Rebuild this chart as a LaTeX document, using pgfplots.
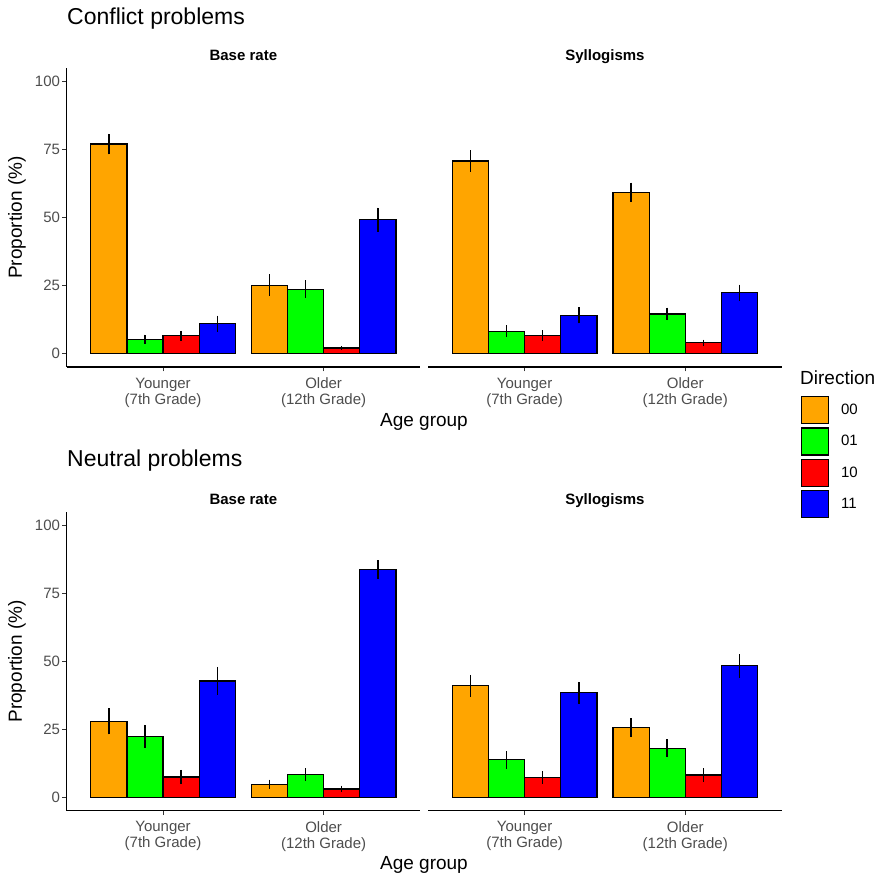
\documentclass[border=0pt]{standalone}
\usepackage{pgfplots}
\pgfplotsset{compat=1.18}
\usepackage{fontspec}
\setmainfont{Liberation Sans}
\definecolor{c00}{HTML}{FFA500}
\definecolor{c01}{HTML}{00FF00}
\definecolor{c10}{HTML}{FF0000}
\definecolor{c11}{HTML}{0000FF}
\definecolor{tickgrey}{HTML}{4D4D4D}
\definecolor{tickcol}{HTML}{333333}
\pgfplotsset{
  panel/.style={
    scale only axis, width=353.3pt, height=299pt,
    xmin=0.4, xmax=2.6, ymin=-5, ymax=105,
    axis x line=bottom, axis y line=left,
    axis line style={-, line width=1.1pt, black},
    xtick={1,2}, xticklabels={{Younger\\(7th Grade)},{Older\\(12th Grade)}},
    ytick={0,25,50,75,100},
    tick align=outside, major tick length=4.5pt,
    tick style={line width=1.1pt, color=tickcol},
    x tick label style={align=center, font=\fontsize{15}{16}\selectfont, text=tickgrey, inner sep=1pt, yshift=-5pt},
    y tick label style={font=\fontsize{15}{16}\selectfont, text=tickgrey, inner sep=2pt},
    /pgf/number format/assume math mode=true,
    every axis title/.style={at={(0.5,1)}, anchor=base, yshift=7.5pt, font=\bfseries\fontsize{15}{16}\selectfont},
  },
  rpanel/.style={panel, axis y line=none, ytick=\empty},
  barbase/.style={/pgfplots/ybar, /pgf/bar width=0.225, draw=black, line width=1.2pt,
    /pgfplots/error bars/y dir=both, /pgfplots/error bars/y explicit,
    /pgfplots/error bars/error mark=none,
    /pgfplots/error bars/error bar style={line width=1.5pt, black}},
  b00/.style={barbase, fill=c00, /pgf/bar shift=-0.3375},
  b01/.style={barbase, fill=c01, /pgf/bar shift=-0.1125},
  b10/.style={barbase, fill=c10, /pgf/bar shift=0.1125},
  b11/.style={barbase, fill=c11, /pgf/bar shift=0.3375},
  sqlegend/.style={legend image code/.code={\draw[##1, draw=black, line width=1.2pt] (0pt,-13.5pt) rectangle (27pt,13.5pt);}},
}
\begin{document}
\begin{tikzpicture}
\useasboundingbox (0pt,0pt) rectangle (880pt,874pt);

% ---------------- Conflict problems ----------------
\begin{axis}[panel, at={(66.7pt,507pt)}, anchor=south west, title={Base rate}]
\addplot[b00] coordinates {(1,77.0) +- (0,3.8) (2,25.1) +- (0,4.0)};
\addplot[b01] coordinates {(1,5.2) +- (0,1.7) (2,23.6) +- (0,3.3)};
\addplot[b10] coordinates {(1,6.5) +- (0,1.8) (2,2.0) +- (0,0.7)};
\addplot[b11] coordinates {(1,10.9) +- (0,3.0) (2,49.2) +- (0,4.4)};
\end{axis}

\begin{axis}[rpanel, at={(428.3pt,507pt)}, anchor=south west, title={Syllogisms}, sqlegend,
  legend style={at={(1.054,-0.097)}, anchor=north west, draw=none, fill=none, inner sep=0pt,
    row sep=3pt, nodes={inner sep=0pt}, font=\fontsize{15}{16}\selectfont,
    /tikz/every odd column/.append style={column sep=12pt}},
  legend cell align=left]
\addplot[b00, forget plot] coordinates {(1,70.8) +- (0,4.0) (2,59.3) +- (0,3.5)};
\addplot[b01, forget plot] coordinates {(1,8.2) +- (0,2.2) (2,14.5) +- (0,2.3)};
\addplot[b10, forget plot] coordinates {(1,6.6) +- (0,2.0) (2,3.9) +- (0,1.2)};
\addplot[b11, forget plot] coordinates {(1,14.0) +- (0,3.0) (2,22.3) +- (0,3.0)};
\addlegendimage{fill=c00}\addlegendentry{00}
\addlegendimage{fill=c01}\addlegendentry{01}
\addlegendimage{fill=c10}\addlegendentry{10}
\addlegendimage{fill=c11}\addlegendentry{11}
\end{axis}

% ---------------- Neutral problems ----------------
\begin{axis}[panel, at={(66.7pt,63.3pt)}, anchor=south west, title={Base rate}]
\addplot[b00] coordinates {(1,27.9) +- (0,4.8) (2,4.7) +- (0,1.7)};
\addplot[b01] coordinates {(1,22.4) +- (0,4.2) (2,8.4) +- (0,2.3)};
\addplot[b10] coordinates {(1,7.4) +- (0,2.6) (2,3.0) +- (0,1.2)};
\addplot[b11] coordinates {(1,42.7) +- (0,5.2) (2,83.7) +- (0,3.4)};
\end{axis}

\begin{axis}[rpanel, at={(428.3pt,63.3pt)}, anchor=south west, title={Syllogisms}]
\addplot[b00] coordinates {(1,41.0) +- (0,4.0) (2,25.6) +- (0,3.5)};
\addplot[b01] coordinates {(1,13.7) +- (0,3.2) (2,18.0) +- (0,3.3)};
\addplot[b10] coordinates {(1,7.3) +- (0,2.3) (2,8.1) +- (0,2.5)};
\addplot[b11] coordinates {(1,38.4) +- (0,4.0) (2,48.3) +- (0,4.3)};
\end{axis}

% ---------------- texts ----------------
\node[anchor=base west, inner sep=0pt, font=\fontsize{23}{26}\selectfont] at (67pt,849pt) {Conflict problems};
\node[anchor=base west, inner sep=0pt, font=\fontsize{23}{26}\selectfont] at (67pt,407.5pt) {Neutral problems};
\node[anchor=base, inner sep=0pt, font=\fontsize{19}{21}\selectfont] at (424pt,447pt) {Age group};
\node[anchor=base, inner sep=0pt, font=\fontsize{19}{21}\selectfont] at (424pt,4pt) {Age group};
\node[rotate=90, inner sep=0pt, font=\fontsize{19}{21}\selectfont] at (17pt,656.5pt) {Proportion (\%)};
\node[rotate=90, inner sep=0pt, font=\fontsize{19}{21}\selectfont] at (17pt,212.6pt) {Proportion (\%)};
\node[anchor=base west, inner sep=0pt, font=\fontsize{19}{21}\selectfont] at (800pt,489pt) {Direction};
\end{tikzpicture}
\end{document}
